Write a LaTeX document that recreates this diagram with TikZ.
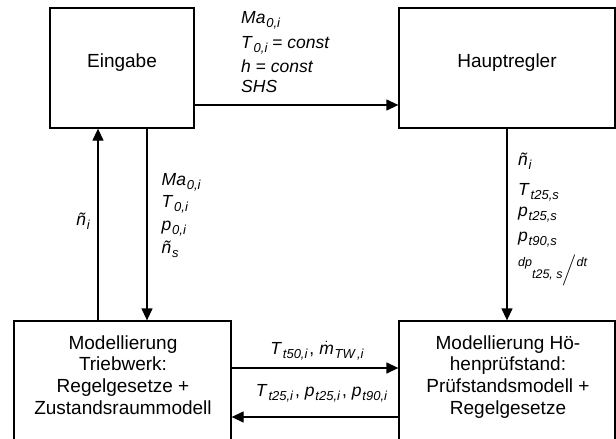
\documentclass[tikz,border=0pt]{standalone}
\usepackage{amsmath}
\usepackage{fontspec}
\setmainfont{Liberation Sans}
\usetikzlibrary{arrows.meta}
\newcommand\sbs[1]{\kern0.8pt\raisebox{-4pt}{\fontsize{13}{13}\selectfont\itshape #1}}
\newcommand\vr[2]{\textit{#1}\sbs{#2}}
\newcommand\sepc{\kern2pt,\kern5pt}
\begin{document}
\begin{tikzpicture}[x=1pt,y=-1pt,
  box/.style={draw, line width=1.3pt, inner sep=0pt, rectangle},
  boxtext/.style={inner sep=0pt, align=center, font=\fontsize{19}{21.7}\selectfont},
  lbl/.style={inner sep=0pt, align=left, font=\fontsize{17.5}{22}\selectfont},
  lblone/.style={inner sep=0pt, font=\fontsize{17.5}{22}\selectfont},
  arr/.style={line width=1.3pt, -{Triangle[length=12pt,width=11pt]}}]
\useasboundingbox (0,0) rectangle (616,439);
\clip (0,0) rectangle (616,439);
% boxes
\node[box, minimum width=144pt, minimum height=120pt] (ein) at (122,68) {};
\node[box, minimum width=216pt, minimum height=120pt] (hr) at (507,68) {};
\node[box, minimum width=217pt, minimum height=139pt] (bl) at (122.5,390.5) {};
\node[box, minimum width=216pt, minimum height=139pt] (br) at (507,390.5) {};
% box texts
\node[boxtext, anchor=base] (eint) at (122,67) {Eingabe};
\node[boxtext, anchor=base] (hrt) at (507,67) {Hauptregler};
\node[boxtext, anchor=north] (blt) at (123,334) {\rule{0pt}{15pt}Modellierung\\Triebwerk:\\Regelgesetze +\\Zustandsraummodell};
\node[boxtext, anchor=north] (brt) at (508,334) {\rule{0pt}{15pt}Modellierung Hö-\\henprüfstand:\\Prüfstandsmodell +\\Regelgesetze};
% connectors
\draw[arr] ([yshift=-37pt]ein.east) -- ([yshift=-37pt]hr.west);
\draw[arr] ([xshift=25pt]ein.south) -- ([xshift=25pt]ein.south |- bl.north);
\draw[arr] ([xshift=-24pt]ein.south |- bl.north) -- ([xshift=-24pt]ein.south);
\draw[arr] (hr.south) -- (hr.south |- br.north);
\draw[arr] ([yshift=22.5pt]bl.east) -- ([yshift=22.5pt]br.west);
\draw[arr] ([yshift=-26.5pt]br.west) -- ([yshift=-26.5pt]bl.east);
% labels
\node[lbl, anchor=north west] (ltop) at (241,9) {\rule{0pt}{14pt}\vr{Ma}{0,i}\\[3pt]\vr{T}{0,i} = \textit{const}\\[2pt]\textit{h} = \textit{const}\\[-2pt]\textit{SHS}};
\node[lbl, anchor=north west] (ldown) at (161.5,171) {\rule{0pt}{14pt}\vr{Ma}{0,i}\\[0pt]\vr{T}{0,i}\\[1pt]\vr{p}{0,i}\\[1pt]\vr{ñ}{s}};
\node[lbl, anchor=north west] (lright) at (518,151) {\rule{0pt}{14pt}\vr{ñ}{i}\\[8pt]\vr{T}{t25,s}\\[-1pt]\vr{p}{t25,s}\\[3pt]\vr{p}{t90,s}\\[7pt]{\fontsize{12.5}{12.5}\selectfont\itshape\raisebox{5pt}{dp}\raisebox{-7pt}{t25, s}}\raisebox{-3pt}{$\Big/$}\raisebox{5pt}{\fontsize{12.5}{12.5}\selectfont\itshape dt}};
\node[lblone, anchor=base east] (lup) at (90,225) {\vr{ñ}{i}};
\node[lblone, anchor=base] (lbr) at (317,354) {\vr{T}{t50,i}\sepc$\dot{\text{\itshape m}}$\sbs{TW\,,i}};
\node[lblone, anchor=base] (lbl2) at (321.5,396) {\vr{T}{t25,i}\sepc\vr{p}{t25,i}\sepc\vr{p}{t90,i}};
\end{tikzpicture}
\end{document}
